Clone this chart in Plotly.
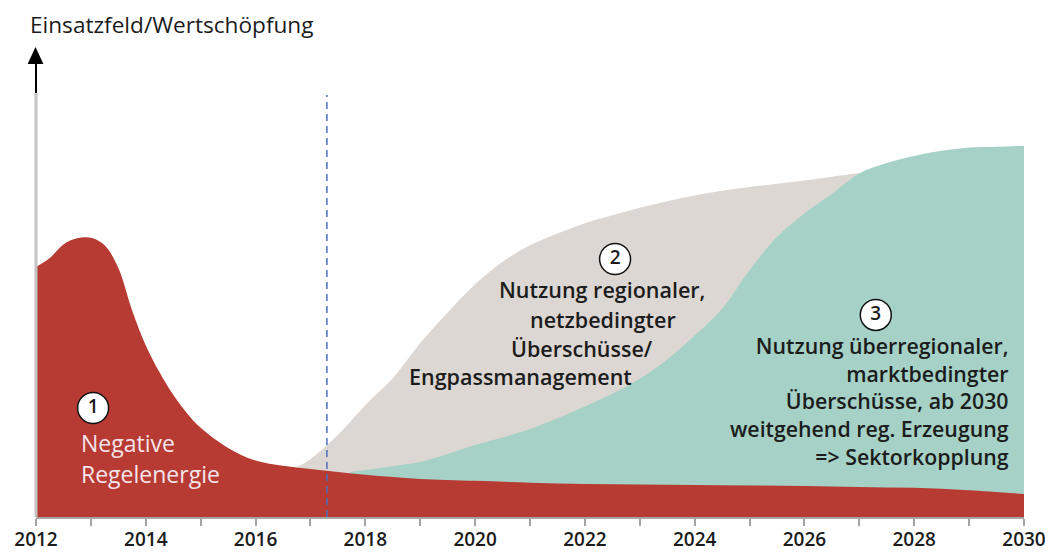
import plotly.graph_objects as go

# ---- data (index units, 0-100) ----
red_years = [2012.0, 2012.25, 2012.5, 2012.75, 2013.0, 2013.25, 2013.5, 2013.75, 2014.0,
             2014.25, 2014.5, 2014.75, 2015.0, 2015.5, 2016.0, 2016.5, 2017.0, 2017.5,
             2018.0, 2018.5, 2019, 2020, 2021, 2022, 2023, 2024, 2025, 2026, 2027,
             2028, 2029, 2030]
red_vals = [53.2, 55.1, 58.0, 59.3, 59.4, 57.8, 53.0, 44.0, 36.5,
            30.8, 26.0, 22.1, 19.0, 14.7, 12.0, 10.9, 10.2, 9.6,
            9.0, 8.5, 8.1, 7.7, 7.3, 7.0, 6.9, 6.8, 6.7, 6.6, 6.4,
            6.2, 5.7, 4.9]

grey_years = [2016.75, 2017.0, 2017.5, 2018.0, 2018.5, 2019.0, 2019.5, 2020.0, 2020.5,
              2021.0, 2021.5, 2022.0, 2022.5, 2023.0, 2023.5, 2024.0, 2024.5, 2025.0,
              2025.5, 2026.0, 2026.5, 2027.0, 2028, 2029, 2030]
grey_vals = [10.6, 12.3, 17.5, 23.8, 29.5, 37.0, 43.5, 49.5, 54.3,
             57.8, 60.3, 62.5, 64.2, 65.8, 67.2, 68.4, 69.4, 70.2,
             70.9, 71.6, 72.4, 73.2, 74.3, 75.2, 75.8]

teal_years = [2017.72, 2018.0, 2018.5, 2019.0, 2019.5, 2020.0, 2020.5, 2021.0, 2021.5,
              2022.0, 2022.5, 2023.0, 2023.5, 2024.0, 2024.5, 2025.0, 2025.5, 2026.0,
              2026.5, 2027.0, 2027.5, 2028.0, 2028.5, 2029.0, 2029.5, 2030.0]
teal_vals = [9.6, 10.0, 10.8, 11.7, 13.4, 15.3, 16.9, 18.7, 21.0,
             23.5, 26.2, 29.4, 33.5, 38.6, 44.3, 52.5, 59.6, 64.6,
             68.8, 73.1, 75.3, 76.8, 77.9, 78.6, 78.8, 79.0]

tick_years = list(range(2012, 2031))
tick_labels = [str(y) if y % 2 == 0 else "" for y in tick_years]

marker_year = 2017.3

circle_x = [2013.04, 2022.55, 2027.30]
circle_y = [23.2, 54.9, 43.0]
circle_txt = ["1", "2", "3"]

RED = "#b73b33"
GREY = "#dcd7d3"
TEAL = "#a5d1c6"
TXT = "#1c1c1c"
FONT = "Open Sans"

fig = go.Figure()
for xs, ys, col in [(grey_years, grey_vals, GREY), (teal_years, teal_vals, TEAL),
                    (red_years, red_vals, RED)]:
    fig.add_trace(go.Scatter(x=xs, y=ys, fill="tozeroy", mode="lines",
                             line=dict(width=0, shape="spline", smoothing=1.0, color=col),
                             fillcolor=col, hoverinfo="skip", showlegend=False))
fig.add_trace(go.Scatter(x=circle_x, y=circle_y, mode="markers+text", text=circle_txt,
                         textposition="middle center",
                         textfont=dict(family=FONT, size=19, color=TXT, weight=600),
                         marker=dict(size=31, color="white", line=dict(color="#111", width=1.5)),
                         hoverinfo="skip", showlegend=False))

shapes = [
    dict(type="line", xref="x", yref="y", x0=marker_year, x1=marker_year, y0=0, y1=89.8,
         line=dict(color="#4d70bd", width=1.5, dash="7px,5px")),
    dict(type="line", xref="paper", yref="paper", x0=0, x1=0, y0=0, y1=0.902,
         line=dict(color="#c4c4c4", width=3)),
    dict(type="line", xref="paper", yref="paper", x0=0, x1=0, y0=0.902, y1=0.97,
         line=dict(color="black", width=2)),
    dict(type="path", xref="paper", yref="paper",
         path="M -0.0085,0.964 L 0.0075,0.964 L -0.0005,1.0 Z",
         fillcolor="black", line=dict(width=0)),
]

annotations = [
    dict(text="Einsatzfeld/Wertschöpfung", xref="paper", yref="paper", x=-0.008, y=1.047,
         xanchor="left", yanchor="middle", showarrow=False,
         font=dict(family=FONT, size=22.6, color=TXT)),
]

def add_text(txt, x, y, anchor, color=TXT, size=21.5, weight=600, align="left"):
    annotations.append(dict(text=txt, x=x, y=y, xref="x", yref="y", xanchor=anchor,
                            yanchor="middle", showarrow=False, align=align, borderpad=0,
                            font=dict(family=FONT, size=size, color=color, weight=weight)))

# region 1
add_text("Negative", 2012.80, 15.7, "left", color="#f6e4ea", size=23, weight=500)
add_text("Regelenergie", 2012.80, 9.1, "left", color="#f6e4ea", size=23, weight=500)
# region 2
add_text("Nutzung regionaler,", 2022.31, 48.3, "center", size=21.5)
add_text("netzbedingter", 2022.33, 42.1, "center", size=21.5)
add_text("Überschüsse/", 2021.95, 35.9, "center", size=21.5)
add_text("Engpassmanagement", 2020.83, 29.9, "center", size=21.5)
# region 3
add_text("Nutzung überregionaler,<br>marktbedingter<br>Überschüsse, ab 2030<br>"
         "weitgehend reg. Erzeugung<br>=> Sektorkopplung",
         2029.74, 24.6, "right", align="right", size=21.3)

# the page body adds an 8px offset; the figure is sized so the plot area sits
# at the reference position in the 1055x553 window
fig.update_layout(
    width=1047, height=545,
    margin=dict(l=28, r=31, t=39, b=36, autoexpand=False),
    paper_bgcolor="white", plot_bgcolor="white",
    shapes=shapes, annotations=annotations,
    xaxis=dict(range=[2012, 2030], tickvals=tick_years, ticktext=tick_labels,
               ticks="outside", ticklen=7, tickwidth=2, tickcolor="#a6a6a6",
               ticklabelstandoff=-3,
               showline=True, linecolor="#a6a6a6", linewidth=2,
               showgrid=False, zeroline=False, automargin=False,
               tickfont=dict(family=FONT, size=19, color=TXT, weight=600)),
    yaxis=dict(range=[0, 100], showticklabels=False, showgrid=False, zeroline=False,
               showline=False, ticks="", automargin=False),
)

fig.write_html("out.html")
